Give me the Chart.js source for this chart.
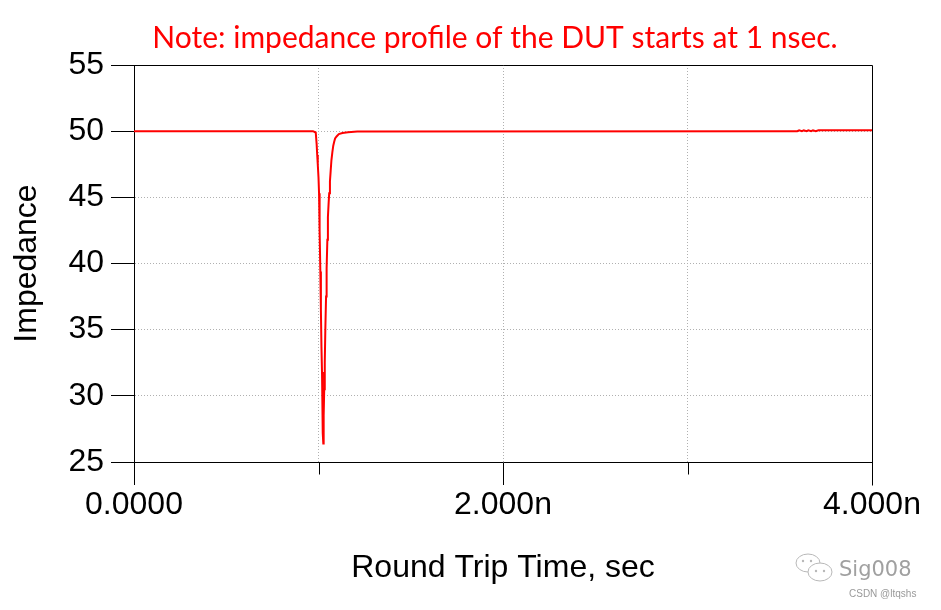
<!DOCTYPE html>
<html>
<head>
<meta charset="utf-8">
<title>TDR impedance profile</title>
<script src="https://cdn.jsdelivr.net/npm/chart.js@4.4.1/dist/chart.umd.min.js"></script>
<style>
    html, body { margin: 0; padding: 0; background: #fff; }
    #wrap { width: 941px; height: 610px; }
</style>
</head>
<body>
<div id="wrap"><canvas id="tdrChart" width="941" height="610"></canvas></div>
<script>
// Round trip time in ns and impedance in ohm
const timeNs = [
    0, 0.97, 0.985, 0.99, 0.993, 0.996, 1.0, 1.003, 1.006, 1.01, 1.013, 1.016,
    1.019, 1.022, 1.024, 1.026, 1.028, 1.031, 1.034, 1.037, 1.041, 1.044, 1.048,
    1.051, 1.055, 1.058, 1.062, 1.066, 1.07, 1.075, 1.08, 1.085, 1.09, 1.098,
    1.11, 1.13, 1.16, 1.21, 3.58, 3.595, 3.605, 3.62, 3.63, 3.645, 3.655, 3.67,
    3.68, 3.695, 3.71, 4.0
];
const impedance = [
    50, 50, 49.9, 49.0, 48.2, 47.5, 46.5, 45.3, 42.5, 39.4, 36.5, 33.7,
    31.8, 29.5, 27.2, 26.4, 28.5, 30.5, 32.5, 35.0, 37.5, 39.6, 41.8,
    43.5, 44.6, 45.3, 46.2, 47.0, 47.8, 48.4, 48.9, 49.2, 49.45, 49.6,
    49.78, 49.86, 49.92, 49.97, 50.0, 50.0, 50.06, 50.0, 50.06, 50.0, 50.06, 50.0,
    50.06, 50.0, 50.07, 50.07
];

const xTickValues = [0, 1, 2, 3, 4];
const xTickLabels = ['0.0000', '', '2.000n', '', '4.000n'];
const yTickValues = [25, 30, 35, 40, 45, 50, 55];

const noteText = 'Note: impedance profile of the DUT starts at 1 nsec.';
const axisFont = { family: 'Liberation Sans, Arial, sans-serif', size: 32 };

// frame, minor ticks, red note and the corner watermark
const overlayPlugin = {
    id: 'overlay',
    afterDraw(chart) {
        const { ctx, chartArea: a, scales: { x } } = chart;
        const top = Math.round(a.top) + 0.5;
        const right = Math.round(a.right) + 0.5;
        const bottom = Math.round(a.bottom) + 0.5;

        ctx.save();
        ctx.strokeStyle = '#000';
        ctx.lineWidth = 1;
        ctx.beginPath();
        ctx.moveTo(Math.round(a.left), top);
        ctx.lineTo(right, top);
        ctx.lineTo(right, bottom + 23);
        ctx.stroke();

        // minor ticks at odd nanoseconds
        xTickValues.forEach((v, i) => {
            if (xTickLabels[i] !== '') return;
            const px = Math.round(x.getPixelForValue(v)) + 0.5;
            ctx.beginPath();
            ctx.moveTo(px, bottom);
            ctx.lineTo(px, bottom + 12);
            ctx.stroke();
        });

        // red note above the plot
        ctx.fillStyle = '#ff0000';
        ctx.textAlign = 'center';
        ctx.textBaseline = 'alphabetic';
        ctx.font = '28px Lato, sans-serif';
        const size = 28 * 685 / ctx.measureText(noteText).width;
        ctx.font = size.toFixed(1) + 'px Lato, sans-serif';
        ctx.fillText(noteText, 495, 48);

        // watermark
        ctx.strokeStyle = '#b8b8b8';
        ctx.lineWidth = 1;
        ctx.beginPath();
        ctx.ellipse(808, 563, 12, 9, 0, 0, Math.PI * 2);
        ctx.stroke();
        ctx.fillStyle = '#fff';
        ctx.beginPath();
        ctx.ellipse(820, 572, 12, 9, 0, 0, Math.PI * 2);
        ctx.fill();
        ctx.stroke();
        ctx.fillStyle = '#b8b8b8';
        [[803, 561], [811, 561], [816, 571], [824, 571]].forEach(([cx, cy]) => {
            ctx.beginPath();
            ctx.arc(cx, cy, 1.2, 0, Math.PI * 2);
            ctx.fill();
        });
        ctx.fillStyle = '#a0a0a0';
        ctx.textAlign = 'left';
        ctx.font = '21px "DejaVu Sans", sans-serif';
        ctx.fillText('Sig008', 839, 576);
        ctx.font = '10px "Liberation Sans", Arial, sans-serif';
        ctx.fillStyle = '#999';
        ctx.fillText('CSDN @ltqshs', 849, 597);
        ctx.restore();
    }
};

class TdrChart {
    constructor() {
        const ctx = document.getElementById('tdrChart').getContext('2d');
        this.chart = new Chart(ctx, {
            type: 'line',
            data: {
                datasets: [{
                    label: 'Impedance',
                    data: timeNs.map((t, i) => ({ x: t, y: impedance[i] })),
                    borderColor: '#ff0000',
                    borderWidth: 2,
                    pointRadius: 0,
                    tension: 0,
                    fill: false
                }]
            },
            options: {
                responsive: false,
                animation: false,
                layout: { padding: { top: 65, right: 69, bottom: 0, left: 0 } },
                plugins: {
                    legend: { display: false },
                    tooltip: { enabled: false }
                },
                scales: {
                    x: {
                        type: 'linear',
                        min: 0,
                        max: 4,
                        afterBuildTicks: (scale) => {
                            scale.ticks = xTickValues.map(v => ({ value: v }));
                        },
                        afterFit: (scale) => { scale.height = 148; },
                        ticks: {
                            callback: (v) => xTickLabels[xTickValues.indexOf(v)],
                            autoSkip: false,
                            maxRotation: 0,
                            padding: 1,
                            color: '#000',
                            font: axisFont
                        },
                        grid: {
                            color: (c) => (c.tick && (c.tick.value === 0 || c.tick.value === 4)) ? 'rgba(0,0,0,0)' : '#b0b0b0',
                            tickColor: (c) => (c.tick && xTickLabels[xTickValues.indexOf(c.tick.value)] === '') ? 'rgba(0,0,0,0)' : '#000',
                            tickLength: 23
                        },
                        border: { display: true, color: '#000', width: 1, dash: [1, 2] },
                        title: {
                            display: true,
                            text: 'Round Trip Time, sec',
                            color: '#000',
                            font: axisFont,
                            padding: { top: 0, bottom: 23 }
                        }
                    },
                    y: {
                        min: 25,
                        max: 55,
                        afterBuildTicks: (scale) => {
                            scale.ticks = yTickValues.map(v => ({ value: v }));
                        },
                        afterFit: (scale) => { scale.width = 134; },
                        ticks: {
                            padding: 7,
                            color: '#000',
                            font: axisFont
                        },
                        grid: {
                            color: (c) => (c.tick && (c.tick.value === 25 || c.tick.value === 55)) ? 'rgba(0,0,0,0)' : '#b0b0b0',
                            tickColor: '#000',
                            tickLength: 23
                        },
                        border: { display: true, color: '#000', width: 1, dash: [1, 2] },
                        title: {
                            display: true,
                            text: 'Impedance',
                            color: '#000',
                            font: axisFont,
                            padding: { top: 8, bottom: 0 }
                        }
                    }
                }
            },
            plugins: [overlayPlugin]
        });
    }
}

document.addEventListener('DOMContentLoaded', () => {
    window.tdrApp = new TdrChart();
});
</script>
</body>
</html>
